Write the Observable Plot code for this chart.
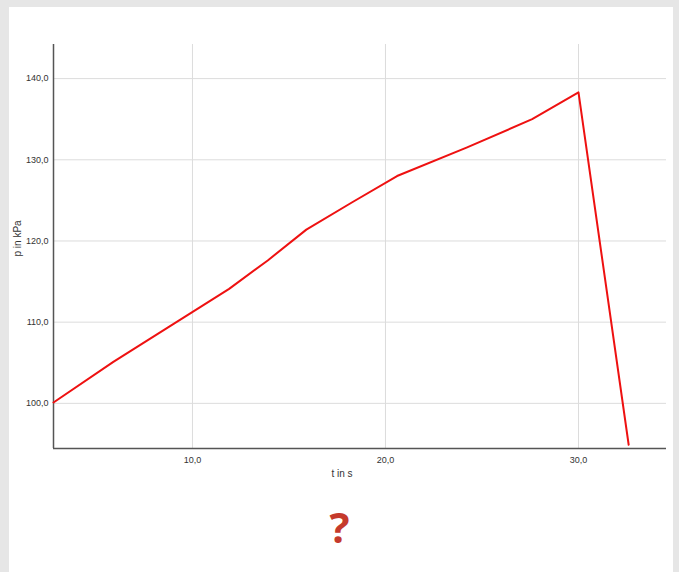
<!DOCTYPE html>
<html>
<head>
<meta charset="utf-8">
<script src="https://cdn.jsdelivr.net/npm/d3@7"></script>
<script src="https://cdn.jsdelivr.net/npm/@observablehq/plot@0.6"></script>
<style>
  html, body { margin: 0; padding: 0; background: #e6e6e6; width: 679px; height: 572px; overflow: hidden; }
  #panel { position: absolute; left: 9px; top: 7px; width: 664px; height: 580px; background: #fff; }
  #chart { position: absolute; left: 0; top: 0; }
  #q { position: absolute; left: 0; width: 679px; top: 503px; text-align: center;
       font-family: "Open Sans", "Liberation Sans", sans-serif; font-weight: 700; font-size: 42px;
       line-height: 48px; color: #c53a2c; }
</style>
</head>
<body>
<div id="panel"></div>
<div id="chart"></div>
<div id="q">?</div>
<script>
// data
const tValues = [2.8, 5.9, 8.9, 11.9, 13.9, 15.9, 18.3, 20.6, 24.2, 27.6, 30.0, 32.6];
const pValues = [100.1, 105.1, 109.6, 114.1, 117.6, 121.4, 124.8, 128.0, 131.5, 135.0, 138.3, 94.9];
const xTicks = [10, 20, 30];
const yTicks = [100, 110, 120, 130, 140];
const xLabel = "t in s";
const yLabel = "p in kPa";

const data = tValues.map((t, i) => ({t, p: pValues[i]}));
const fmt = v => d3.format(".1f")(v).replace(".", ",");

const chart = Plot.plot({
  width: 679,
  height: 490,
  marginLeft: 53,
  marginRight: 13,
  marginTop: 44,
  marginBottom: 42,
  style: {fontFamily: "'Liberation Sans', Arial, sans-serif", fontSize: "9px", background: "transparent", color: "#333"},
  x: {domain: [2.8, 34.56]},
  y: {domain: [94.44, 144.2]},
  marks: [
    Plot.gridX(xTicks, {stroke: "#dcdcdc", strokeOpacity: 1}),
    Plot.gridY(yTicks, {stroke: "#dcdcdc", strokeOpacity: 1}),
    Plot.axisX(xTicks, {tickSize: 0, tickPadding: 8, tickFormat: fmt, label: null, fontSize: 9}),
    Plot.axisY(yTicks, {tickSize: 0, tickPadding: 5, tickFormat: fmt, label: null, fontSize: 9}),
    Plot.ruleX([2.8], {stroke: "#555", strokeWidth: 1.5}),
    Plot.ruleY([94.44], {stroke: "#555", strokeWidth: 1.5}),
    Plot.line(data, {x: "t", y: "p", stroke: "#ee1111", strokeWidth: 2, curve: "linear"}),
    Plot.text([xLabel], {frameAnchor: "bottom", dx: -18, dy: 28, fontSize: 10, fill: "#333"}),
    Plot.text([yLabel], {frameAnchor: "left", dx: -36, dy: 10, rotate: -90, fontSize: 10, fill: "#333"})
  ]
});
document.getElementById("chart").appendChild(chart);
</script>
</body>
</html>
